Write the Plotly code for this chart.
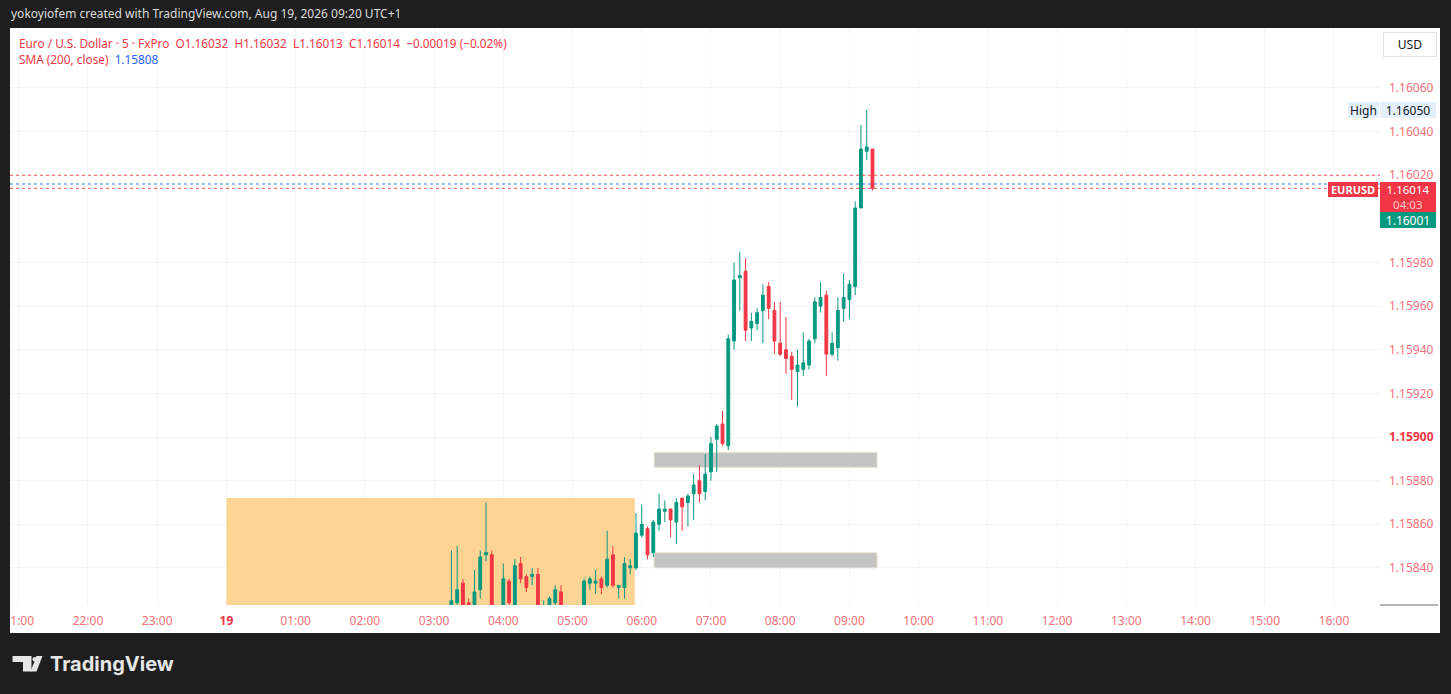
import plotly.graph_objects as go
import pandas as pd

# ---------------- data ----------------
start_time = "2026-08-19 03:15"
end_time = "2026-08-19 09:20"
times = pd.date_range(start_time, end_time, freq="5min")

opens = [1.15820, 1.15824, 1.15833, 1.15824, 1.15818, 1.15830, 1.15846, 1.15846, 1.15818, 1.15816,
         1.15834, 1.15818, 1.15842, 1.15836, 1.15836, 1.15837, 1.15812, 1.15820, 1.15824, 1.15829,
         1.15819, 1.15814, 1.15818, 1.15818, 1.15833, 1.15833, 1.15835, 1.15832, 1.15846, 1.15831,
         1.15831, 1.15840, 1.15840, 1.15855, 1.15858, 1.15847, 1.15860, 1.15866, 1.15867, 1.15861,
         1.15872, 1.15870, 1.15874, 1.15880, 1.15875, 1.15884, 1.15899, 1.15906, 1.15896, 1.15944,
         1.15973, 1.15976, 1.15950, 1.15952, 1.15958, 1.15969, 1.15958, 1.15943, 1.15940, 1.15937,
         1.15930, 1.15931, 1.15933, 1.15945, 1.15960, 1.15965, 1.15938, 1.15941, 1.15959, 1.15963,
         1.15969, 1.16005, 1.16031, 1.16032]
highs = [1.15848, 1.15850, 1.15835, 1.15826, 1.15839, 1.15848, 1.15870, 1.15848, 1.15821, 1.15842,
         1.15835, 1.15844, 1.15845, 1.15837, 1.15840, 1.15840, 1.15825, 1.15827, 1.15832, 1.15832,
         1.15822, 1.15821, 1.15822, 1.15835, 1.15836, 1.15839, 1.15836, 1.15857, 1.15850, 1.15832,
         1.15845, 1.15844, 1.15865, 1.15869, 1.15859, 1.15862, 1.15874, 1.15871, 1.15867, 1.15872,
         1.15872, 1.15874, 1.15883, 1.15887, 1.15892, 1.15900, 1.15906, 1.15912, 1.15947, 1.15980,
         1.15985, 1.15982, 1.15957, 1.15959, 1.15970, 1.15971, 1.15962, 1.15962, 1.15955, 1.15939,
         1.15940, 1.15948, 1.15945, 1.15964, 1.15971, 1.15967, 1.15948, 1.15964, 1.15975, 1.15972,
         1.16008, 1.16043, 1.16050, 1.16032]
lows = [1.15815, 1.15820, 1.15815, 1.15814, 1.15816, 1.15826, 1.15843, 1.15812, 1.15810, 1.15813,
        1.15820, 1.15815, 1.15833, 1.15829, 1.15832, 1.15815, 1.15810, 1.15818, 1.15822, 1.15815,
        1.15810, 1.15811, 1.15812, 1.15815, 1.15830, 1.15828, 1.15828, 1.15831, 1.15831, 1.15826,
        1.15826, 1.15837, 1.15839, 1.15854, 1.15844, 1.15845, 1.15857, 1.15861, 1.15854, 1.15851,
        1.15857, 1.15859, 1.15862, 1.15870, 1.15871, 1.15880, 1.15884, 1.15896, 1.15894, 1.15940,
        1.15958, 1.15944, 1.15944, 1.15949, 1.15943, 1.15954, 1.15938, 1.15937, 1.15929, 1.15917,
        1.15914, 1.15928, 1.15931, 1.15943, 1.15957, 1.15928, 1.15937, 1.15935, 1.15953, 1.15954,
        1.15965, 1.16005, 1.16027, 1.16013]
closes = [1.15825, 1.15830, 1.15818, 1.15819, 1.15829, 1.15845, 1.15847, 1.15815, 1.15814, 1.15835,
          1.15824, 1.15841, 1.15835, 1.15831, 1.15837, 1.15818, 1.15819, 1.15826, 1.15830, 1.15818,
          1.15814, 1.15818, 1.15816, 1.15834, 1.15835, 1.15834, 1.15831, 1.15844, 1.15832, 1.15832,
          1.15842, 1.15841, 1.15856, 1.15860, 1.15846, 1.15861, 1.15867, 1.15867, 1.15862, 1.15870,
          1.15868, 1.15873, 1.15878, 1.15874, 1.15883, 1.15897, 1.15905, 1.15897, 1.15945, 1.15972,
          1.15974, 1.15949, 1.15953, 1.15957, 1.15965, 1.15959, 1.15944, 1.15938, 1.15936, 1.15931,
          1.15933, 1.15934, 1.15944, 1.15962, 1.15964, 1.15938, 1.15943, 1.15958, 1.15964, 1.15970,
          1.16005, 1.16032, 1.16033, 1.16014]

# zones
demand_zone = ["2026-08-19 00:00", "2026-08-19 05:54", 1.15800, 1.15872]
gray_zones = [["2026-08-19 06:10:40", "2026-08-19 09:24", 1.15886, 1.15893],
              ["2026-08-19 06:10:40", "2026-08-19 09:24", 1.15840, 1.15847]]
price_lines = [(1.16020, "#F23645"), (1.16016, "#2962FF"), (1.16014, "#F23645")]

y_ticks = [1.15840, 1.15860, 1.15880, 1.15900, 1.15920, 1.15940, 1.15960, 1.15980,
           1.16020, 1.16040, 1.16060]
x_tick_times = pd.date_range("2026-08-18 21:00", "2026-08-19 16:00", freq="1h")
x_tick_text = ["21:00", "22:00", "23:00", "19", "01:00", "02:00", "03:00", "04:00", "05:00",
               "06:00", "07:00", "08:00", "09:00", "10:00", "11:00", "12:00", "13:00",
               "14:00", "15:00", "16:00"]

x_range = ["2026-08-18 20:52:24", "2026-08-19 16:39:54"]
y_range = [1.158230, 1.160875]

header = ("Euro / U.S. Dollar · 5 · FxPro  O1.16032  H1.16032  L1.16013  C1.16014  "
          "−0.00019 (−0.02%)")
sma_label, sma_value = "SMA (200, close)", "1.15808"
last_price, countdown, other_price, high_price = "1.16014", "04:03", "1.16001", "1.16050"

# ---------------- layout helpers ----------------
W, H = 1451, 694
L, R, T, B = 10, 71, 28, 89
PW, PH = W - L - R, H - T - B
BG = "#1e1e1e"
GREEN, RED = "#089981", "#F23645"
TICKRED = "#F5707A"
FONT = "Noto Sans"


def px(x):
    return (x - L) / PW


def py(y):
    return (H - B - y) / PH


fig = go.Figure()
fig.add_trace(go.Candlestick(
    x=times, open=opens, high=highs, low=lows, close=closes,
    increasing=dict(line=dict(color=GREEN, width=1), fillcolor=GREEN),
    decreasing=dict(line=dict(color=RED, width=1), fillcolor=RED),
    whiskerwidth=0, showlegend=False, hoverinfo="skip",
))

shapes = []
# white chart panel
shapes.append(dict(type="rect", xref="paper", yref="paper", x0=px(10), x1=px(1440),
                   y0=py(633), y1=py(28), fillcolor="white", line_width=0, layer="below"))
# zones (between grid and candles)
shapes.append(dict(type="rect", xref="x", yref="y", x0=demand_zone[0], x1=demand_zone[1],
                   y0=demand_zone[2], y1=demand_zone[3], fillcolor="rgb(253,212,148)",
                   line_width=0, layer="between"))
for gz in gray_zones:
    shapes.append(dict(type="rect", xref="x", yref="y", x0=gz[0], x1=gz[1], y0=gz[2], y1=gz[3],
                       fillcolor="#c4c4c4", line=dict(color="#efe6d6", width=1), layer="between"))
for val, col in price_lines:
    shapes.append(dict(type="line", xref="paper", yref="y", x0=0, x1=1, y0=val, y1=val,
                       line=dict(color=col, width=1, dash="dot"), opacity=0.85))
# small scale separator line
shapes.append(dict(type="line", xref="paper", yref="paper", x0=px(1380), x1=px(1438),
                   y0=py(605), y1=py(605), line=dict(color="#6a6d78", width=1)))
# left frame cover (clips the first time label)
shapes.append(dict(type="rect", xref="paper", yref="paper", x0=px(-2), x1=px(10),
                   y0=py(700), y1=py(-5), fillcolor=BG, line_width=0, layer="above"))
# TradingView logo glyph
LOGO = "#e6e6e6"


def ppath(pts):
    s = "M " + " L ".join(f"{px(a):.5f},{py(b):.5f}" for a, b in pts) + " Z"
    return s


shapes.append(dict(type="path", xref="paper", yref="paper",
                   path=ppath([(12.5, 656), (31.5, 656), (31.5, 671.5), (23, 671.5), (23, 662), (12.5, 662)]),
                   fillcolor=LOGO, line_width=0, layer="above"))
shapes.append(dict(type="circle", xref="paper", yref="paper", x0=px(32.5), x1=px(37),
                   y0=py(661.5), y1=py(657), fillcolor=LOGO, line_width=0, layer="above"))
shapes.append(dict(type="path", xref="paper", yref="paper",
                   path=ppath([(36.5, 656), (42.5, 656), (36.5, 671.5), (30.5, 671.5)]),
                   fillcolor=LOGO, line_width=0, layer="above"))

ann = []
ann.append(dict(text="yokoyiofem created with TradingView.com, Aug 19, 2026 09:20 UTC+1",
                xref="paper", yref="paper", x=px(9), y=py(14), xanchor="left", yanchor="middle",
                showarrow=False, font=dict(color="#dcdcdc", size=12, family=FONT)))
ann.append(dict(text=header, xref="paper", yref="paper", x=px(17), y=py(43), xanchor="left",
                yanchor="middle", showarrow=False, font=dict(color=RED, size=11.8, family=FONT)))
ann.append(dict(text=f"{sma_label}  <span style='color:#2962FF'>{sma_value}</span>",
                xref="paper", yref="paper", x=px(17), y=py(59), xanchor="left", yanchor="middle",
                showarrow=False, font=dict(color=RED, size=11.8, family=FONT)))
ann.append(dict(text="USD", xref="paper", yref="paper", x=px(1410), y=py(44.5), xanchor="center",
                yanchor="middle", showarrow=False, width=50, height=21, bgcolor="white",
                bordercolor="#e0e3eb", borderwidth=1, borderpad=1,
                font=dict(color="#131722", size=12, family=FONT)))
# High label
ann.append(dict(text="High", xref="paper", yref="y", x=px(1378.5), y=1.16050, xanchor="right",
                yanchor="middle", showarrow=False, width=31, height=16, bgcolor="#e3effd",
                borderpad=0, borderwidth=0, font=dict(color="#131722", size=12, family=FONT)))
ann.append(dict(text=high_price, xref="paper", yref="y", x=px(1380), y=1.16050, xanchor="left",
                yanchor="middle", showarrow=False, width=56, height=16, bgcolor="#e3effd",
                borderpad=0, borderwidth=0, font=dict(color="#131722", size=12, family=FONT)))
# last price labels
ann.append(dict(text="<b>EURUSD</b>", xref="paper", yref="paper", x=px(1378), y=py(182),
                xanchor="right", yanchor="top", showarrow=False, width=50, height=15,
                bgcolor=RED, borderpad=0, borderwidth=0,
                font=dict(color="white", size=11, family=FONT)))
ann.append(dict(text=f"{last_price}<br><span style='color:#fbc6ca'>{countdown}</span>",
                xref="paper", yref="paper", x=px(1380), y=py(182), xanchor="left", yanchor="top",
                showarrow=False, width=56, height=30, bgcolor=RED, borderpad=0, borderwidth=0,
                font=dict(color="white", size=11.5, family=FONT)))
ann.append(dict(text=other_price, xref="paper", yref="paper", x=px(1380), y=py(212),
                xanchor="left", yanchor="top", showarrow=False, width=56, height=16,
                bgcolor=GREEN, borderpad=0, borderwidth=0,
                font=dict(color="white", size=12, family=FONT)))
ann.append(dict(text="<b>TradingView</b>", xref="paper", yref="paper", x=px(48), y=py(664),
                xanchor="left", yanchor="middle", showarrow=False,
                font=dict(color=LOGO, size=20, family="Inter")))

y_text = []
for v in y_ticks:
    s = f"{v:.5f}"
    if abs(v - 1.15900) < 1e-9:
        s = f"<b><span style='color:{RED}'>{s}</span></b>"
    y_text.append(s)
x_text = [f"<b><span style='color:{RED}'>{t}</span></b>" if t == "19" else t for t in x_tick_text]

fig.update_layout(
    width=W, height=H,
    margin=dict(l=L, r=R, t=T, b=B, pad=0, autoexpand=False),
    paper_bgcolor=BG, plot_bgcolor="white",
    shapes=shapes, annotations=ann,
    font=dict(family=FONT, size=12, color=TICKRED),
    xaxis=dict(type="date", range=x_range, rangeslider=dict(visible=False), automargin=False,
               tickvals=x_tick_times, ticktext=x_text, showgrid=True, gridcolor="#f5f5f7",
               zeroline=False, showline=False, ticks="", ticklabelstandoff=7,
               tickfont=dict(color=TICKRED, size=12, family=FONT)),
    yaxis=dict(side="right", range=y_range, tickvals=y_ticks, ticktext=y_text, automargin=False,
               showgrid=True, gridcolor="#f5f5f7", zeroline=False, showline=False, ticks="",
               ticklabelstandoff=8, tickfont=dict(color=TICKRED, size=12, family=FONT)),
    hovermode=False,
)

fig.write_html(
    "out.html",
    config={"displayModeBar": False},
    post_script="document.body.style.margin='0';document.body.style.background='#1e1e1e';",
)
